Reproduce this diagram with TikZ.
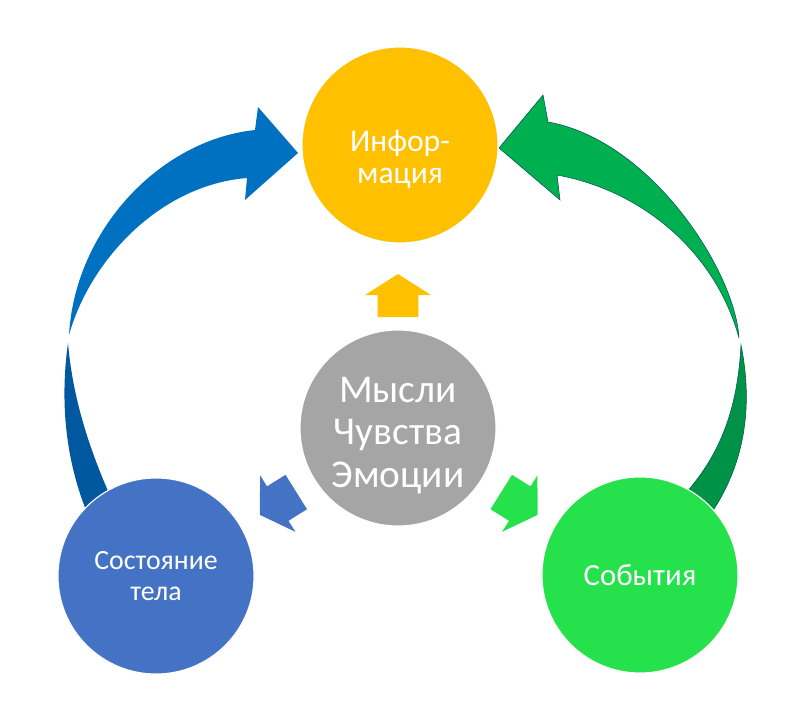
\documentclass[tikz,border=0pt]{standalone}
\usepackage{fontspec}
\setmainfont{Carlito}
\usepackage{tikz}
\usetikzlibrary{shapes.arrows}
\definecolor{infoY}{RGB}{255,192,0}
\definecolor{thinkG}{RGB}{165,165,165}
\definecolor{bodyB}{RGB}{68,114,196}
\definecolor{eventG}{RGB}{37,226,76}
\definecolor{arcBlue}{RGB}{0,112,192}
\definecolor{arcBlueDk}{RGB}{0,88,158}
\definecolor{arcGreen}{RGB}{0,176,80}
\definecolor{arcGreenDk}{RGB}{0,146,70}
% text block set a little below the middle of its circle
\newcommand{\lowertext}[2]{\raisebox{-#1}[\height][\depth]{\begin{tabular}{@{}c@{}}#2\end{tabular}}}

\begin{document}
\begin{tikzpicture}[x=0.025cm, y=0.025cm,
  bubble/.style={circle, minimum size=4.9cm, inner sep=0pt, draw=white, line width=0.8pt, text=white, align=center},
  blockarrow/.style={single arrow, minimum height=1.075cm, minimum width=1.65cm, single arrow head extend=0.325cm, single arrow tip angle=115, inner xsep=0pt, inner ysep=0.5cm}]
  \useasboundingbox (0,0) rectangle (799,705);

  % big curved arrows (drawn first, circles cover their ends)
  \fill[arcBlue] (69,370) .. controls (75,475) and (160,565) .. (255,575)
    -- (258,598) -- (298,552) -- (245,505) -- (247,527)
    .. controls (160,520) and (90,445) .. (69,370) -- cycle;
  \fill[arcBlueDk] (68,362) .. controls (60,305) and (65,245) .. (88,190)
    -- (112,205) .. controls (85,265) and (72,315) .. (68,362) -- cycle;

  \filldraw[arcGreen, draw=teal!70!black, line width=0.4pt] (739,367) .. controls (735,435) and (650,565) .. (548,583)
    -- (543,610) -- (499,557) -- (560,505) -- (557,530)
    .. controls (640,515) and (715,455) .. (739,367) -- cycle;
  \filldraw[arcGreenDk, draw=teal!70!black, line width=0.4pt] (741,360) .. controls (752,305) and (748,245) .. (710,190)
    -- (684,210) .. controls (725,255) and (738,305) .. (741,360) -- cycle;

  % circles
  \node[bubble, fill=infoY, font=\fontsize{22.5}{23}\selectfont] (info) at (400,560) {\lowertext{0.4cm}{Инфор-\\мация}};
  \node[bubble, fill=thinkG, font=\fontsize{28}{30.5}\selectfont] (mind) at (398,277) {\lowertext{0.21cm}{Мысли\\Чувства\\Эмоции}};
  \node[bubble, fill=bodyB, font=\fontsize{19.8}{22}\selectfont] (body) at (156,129) {Состояние\\тела};
  \node[bubble, fill=eventG, font=\fontsize{21.9}{24}\selectfont] (event) at (640,130) {События};

  % small block arrows
  \node[blockarrow, fill=infoY, rotate=90] (upA) at (398,403) {};
  \node[blockarrow, fill=bodyB, rotate=212] (leftA) at (283.5,205) {};
  \node[blockarrow, fill=eventG, rotate=-32] (rightA) at (514,205) {};
\end{tikzpicture}
\end{document}
